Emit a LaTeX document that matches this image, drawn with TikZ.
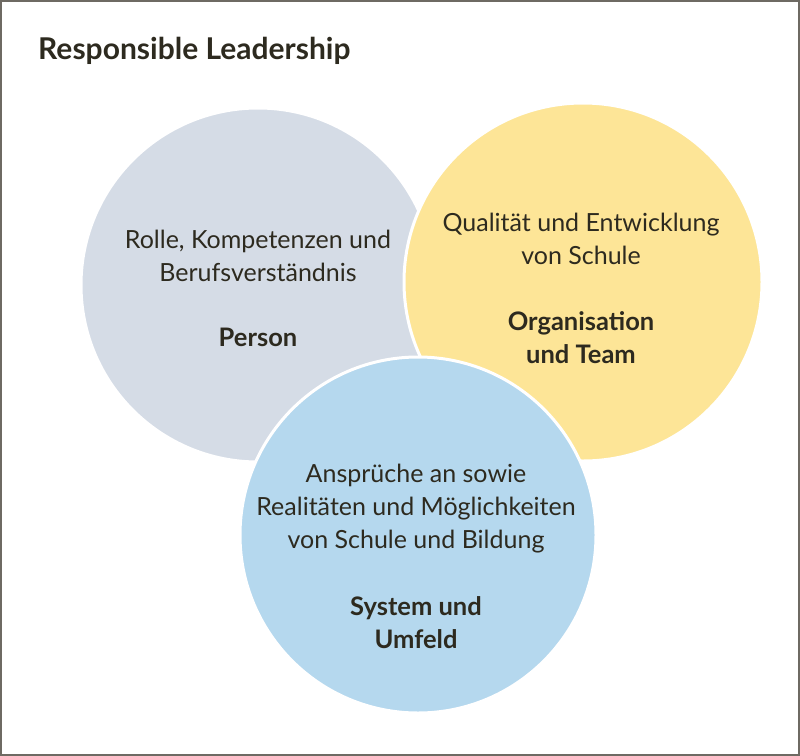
\documentclass[tikz,border=0pt]{standalone}
\usepackage{fontspec}
\setmainfont{Lato}
\definecolor{frame}{HTML}{6E6A63}
\definecolor{ink}{HTML}{2D2A1F}
\definecolor{cgray}{HTML}{D5DCE6}
\definecolor{cyellow}{HTML}{FDE597}
\definecolor{cblue}{HTML}{B5D8EE}
\tikzset{
  circ/.style={circle, draw=white, line width=3bp, inner sep=0pt},
  body/.style={text=ink, font=\fontsize{25bp}{33bp}\selectfont, align=center, inner sep=0pt},
  head/.style={text=ink, font=\fontsize{25.5bp}{33bp}\selectfont\bfseries, align=center, inner sep=0pt},
}
\begin{document}
\begin{tikzpicture}[x=1bp,y=-1bp]
\useasboundingbox (0,0) rectangle (800,756);
\fill[white] (0,0) rectangle (800,756);
\draw[frame, line width=2bp] (1,1) rectangle (799,755);
\node[text=ink, font=\fontsize{30bp}{34bp}\selectfont\bfseries, anchor=west, inner sep=0pt] (title) at (38,51) {Responsible Leadership};
\node[circ, fill=cgray, minimum size=354bp] (person) at (258,285) {};
\node[circ, fill=cyellow, minimum size=358bp] (org) at (583,282) {};
\node[circ, fill=cblue, minimum size=356bp] (sys) at (418,535) {};
\node[body] (t1) at (258,256) {Rolle, Kompetenzen und\\Berufsverständnis};
\node[head] (h1) at (258,337) {Person};
\node[body] (t2) at (581,239) {Qualität und Entwicklung\\von Schule};
\node[head] (h2) at (581,338) {Organisation\\und Team};
\node[body] (t3) at (416,509) {Ansprüche an sowie\\Realitäten und Möglichkeiten\\von Schule und Bildung};
\node[head] (h3) at (416,623) {System und\\Umfeld};
\end{tikzpicture}
\end{document}
